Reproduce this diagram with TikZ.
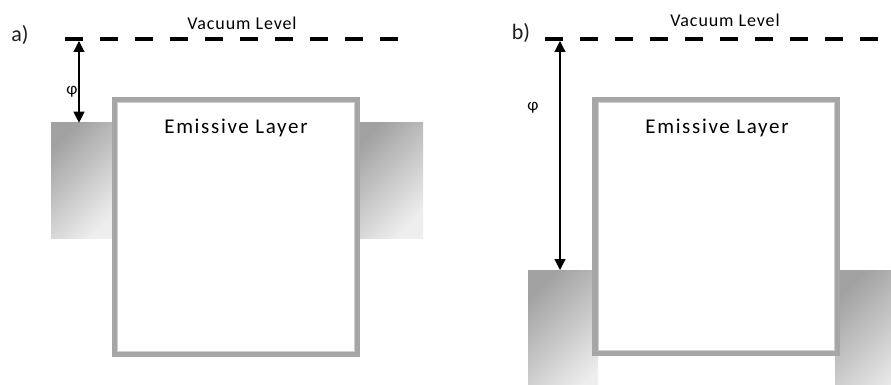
\documentclass[tikz,border=0pt]{standalone}
\usepackage{fontspec}
\setmainfont{Carlito}
\newfontfamily\spacedfont[LetterSpace=8]{Carlito}
\newfontfamily\spacedsmall[LetterSpace=5]{Carlito}
\usetikzlibrary{arrows.meta}
\definecolor{framegray}{HTML}{A6A6A6}
\definecolor{frameinner}{HTML}{CFCFCF}
\definecolor{shadedark}{HTML}{A2A2A2}
\definecolor{shadelight}{HTML}{EEEEEE}
\definecolor{labelink}{HTML}{1E1E1E}
\begin{document}
\begin{tikzpicture}[x=1pt,y=-1pt,
  vac/.style={line width=4pt, dash pattern=on 18pt off 17pt},
  electrode/.style={top color=shadedark, bottom color=shadelight, shading angle=45},
  layer/.style={draw=framegray, line width=5.5pt, fill=white},
  layerin/.style={draw=frameinner, line width=0.8pt},
  dim/.style={line width=1.2pt, {Triangle[width=11pt,length=11pt]}-{Triangle[width=11pt,length=11pt]}},
  emit/.style={inner sep=0pt, anchor=base, font=\spacedfont\fontsize{21}{25}\selectfont},
  vaclabel/.style={inner sep=0pt, anchor=base, font=\spacedsmall\fontsize{18}{21}\selectfont},
  panel/.style={inner sep=0pt, anchor=base, text=labelink, font=\fontsize{22}{26}\selectfont},
  philabel/.style={inner sep=0pt, font=\fontsize{17}{20}\selectfont}]
\useasboundingbox (0,0) rectangle (891,385);
% ---------- panel a ----------
\shade[electrode] (51,122.7) rectangle (117,238);
\shade[electrode] (355,122.7) rectangle (423,238);
\draw[layer] (114.5,99.5) rectangle (357.5,354.5);
\draw[layerin] (117.6,102.6) rectangle (354.4,351.4);
\draw[vac] (65,39.5) -- (402,39.5);
\coordinate (aTop) at (79,41);
\coordinate (aBot) at (79,122.7);
\draw[dim] (aTop) -- (aBot);
\node[philabel] (aPhi) at (72,92) {φ};
\node[emit] (aEmit) at (236,133) {Emissive Layer};
\node[vaclabel] (aVac) at (242,30) {Vacuum Level};
\node[panel] (aLbl) at (20,42) {a)};
% ---------- panel b ----------
\shade[electrode] (528,270) rectangle (598,400);
\shade[electrode] (835,270) rectangle (915,400);
\draw[layer] (595,99.5) rectangle (837.5,353.5);
\draw[layerin] (598.1,102.6) rectangle (834.4,350.4);
\draw[vac] (545,39.5) -- (900,39.5);
\coordinate (bTop) at (560,41);
\coordinate (bBot) at (560,270);
\draw[dim] (bTop) -- (bBot);
\node[philabel] (bPhi) at (533,108) {φ};
\node[emit] (bEmit) at (717,133) {Emissive Layer};
\node[vaclabel] (bVac) at (725,27) {Vacuum Level};
\node[panel] (bLbl) at (521,40) {b)};
\end{tikzpicture}
\end{document}
